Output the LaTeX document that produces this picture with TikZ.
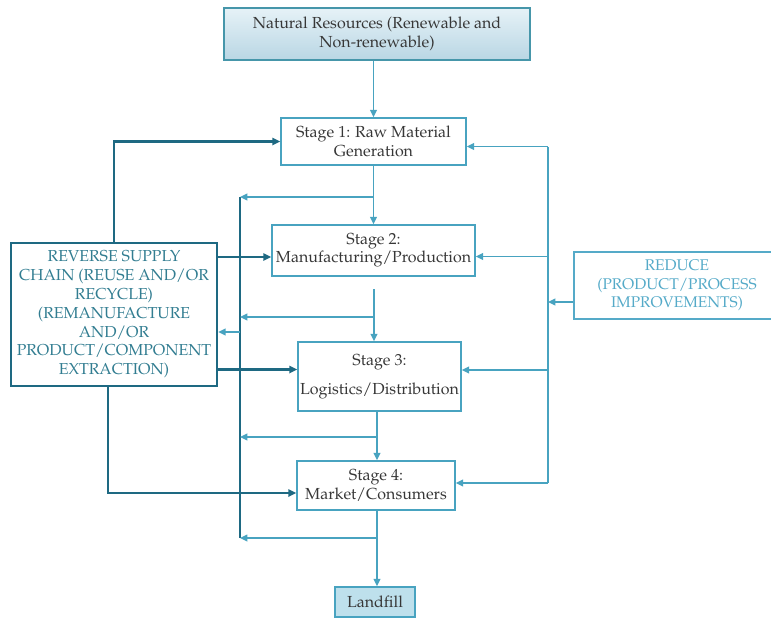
\documentclass[tikz,border=0pt]{standalone}
\usepackage[T1]{fontenc}
\renewcommand{\rmdefault}{ppl}
\usetikzlibrary{arrows.meta,calc}
\definecolor{lt}{RGB}{72,163,192}
\definecolor{dk}{RGB}{30,105,130}
\definecolor{nrb}{RGB}{70,150,170}
\definecolor{rsctext}{RGB}{50,125,145}
\definecolor{redc}{RGB}{85,170,200}
\definecolor{txt}{RGB}{55,55,55}
\definecolor{nrtop}{RGB}{230,242,247}
\definecolor{nrbot}{RGB}{185,214,228}
\definecolor{lffill}{RGB}{190,224,236}
\tikzset{
  stagebox/.style={draw=lt, line width=1.1pt, rectangle, align=center, inner sep=0pt,
    text=txt, font=\fontsize{12}{13.8}\selectfont},
  lt/.style={draw=lt, line width=1.1pt},
  ltarrow/.style={lt, -{Triangle[length=5.5pt,width=5pt]}},
  dkline/.style={draw=dk, line width=1.8pt},
  dkarrow/.style={dkline, -{Triangle[length=6pt,width=5.5pt]}},
}
\begin{document}
\begin{tikzpicture}[x=0.75pt,y=-0.75pt]
\useasboundingbox (0,0) rectangle (771,619);

% nodes
\node[stagebox, draw=nrb, line width=1.4pt, top color=nrtop, bottom color=nrbot,
  minimum width=229.5pt, minimum height=39pt] (nr) at (377,34)
  {Natural Resources (Renewable and\\Non-renewable)};
\node[stagebox, minimum width=138.75pt, minimum height=35.25pt] (s1) at (373.5,141.5)
  {Stage 1: Raw Material\\Generation};
\node[stagebox, minimum width=152.25pt, minimum height=38.25pt] (s2) at (373.5,250.5)
  {Stage 2:\\Manufacturing/Production};
\node[stagebox, minimum width=122.25pt, minimum height=51.75pt] (s3) at (379.5,376.5)
  {Stage 3:\\[8pt]Logistics/Distribution};
\node[stagebox, minimum width=118.5pt, minimum height=36.75pt] (s4) at (376,485.5)
  {Stage 4:\\Market/Consumers};
\node[stagebox, fill=lffill, minimum width=60pt, minimum height=22.5pt] (lf) at (375,602)
  {Landfill};
\node[stagebox, draw=dk, line width=1.8pt, text=rsctext, minimum width=154.5pt,
  minimum height=107.25pt, font=\fontsize{11.9}{14.1}\selectfont] (rsc) at (114,314.5)
  {REVERSE SUPPLY\\CHAIN (REUSE AND/OR\\RECYCLE)\\(REMANUFACTURE\\AND/OR\\PRODUCT/COMPONENT\\EXTRACTION)};
\node[stagebox, draw=redc, line width=1.5pt, text=redc, minimum width=154.5pt,
  minimum height=50.25pt, font=\fontsize{11.6}{13.9}\selectfont] (red) at (677,285.5)
  {REDUCE\\(PRODUCT/PROCESS\\IMPROVEMENTS)};

% junction coordinates
\coordinate (ctop) at (240,197);
\coordinate (cbot) at (240,538);
\coordinate (rtop) at (548,147);
\coordinate (rbot) at (548,483);
\coordinate (m1) at (374,197);
\coordinate (m2a) at (374,289);
\coordinate (m2) at (374,317);
\coordinate (m3) at (377,437);
\coordinate (m4) at (377,538);

% main chain
\draw[ltarrow] (s1.north |- nr.south) -- (s1.north);
\draw[ltarrow] (s1.south) -- (s1.south |- s2.north);
\draw[ltarrow] (m2a) -- (m2a |- s3.north);
\draw[ltarrow] (m3 |- s3.south) -- (m3 |- s4.north);
\draw[ltarrow] (m4 |- s4.south) -- (m4 |- lf.north);

% collector on the left
\draw[dkline, line width=2pt] (ctop) -- (cbot);
\draw[ltarrow] (m1) -- (ctop);
\draw[ltarrow] (m2) -- (m2 -| ctop);
\draw[ltarrow] (m3) -- (m3 -| ctop);
\draw[ltarrow] (m4) -- (cbot);
\coordinate (r3) at ($(rsc.east)+(0,17.5)$);
\draw[ltarrow] (r3 -| ctop) -- (r3);

% reverse supply chain arrows
\draw[dkarrow] (rsc.north) |- (s1.west);
\coordinate (a2) at ($(s2.west)+(0,6.5)$);
\draw[dkarrow] (a2 -| rsc.east) -- (a2);
\coordinate (a3) at ($(s3.west)+(0,-7)$);
\draw[dkarrow] (a3 -| rsc.east) -- (a3);
\coordinate (a4) at ($(s4.west)+(0,7.5)$);
\draw[dkarrow] ($(rsc.south)+(-6,0)$) |- (a4);

% reduce bus on the right
\draw[lt] (rtop) -- (rbot);
\coordinate (b0) at ($(red.west)+(0,16.5)$);
\draw[ltarrow] (b0) -- (b0 -| rtop);
\coordinate (b1) at ($(s1.east)+(0,5)$);
\draw[ltarrow] (b1 -| rtop) -- (b1);
\coordinate (b2) at ($(s2.east)+(0,6)$);
\draw[ltarrow] (b2 -| rtop) -- (b2);
\coordinate (b3) at ($(s3.east)+(0,-6.5)$);
\draw[ltarrow] (b3 -| rtop) -- (b3);
\draw[ltarrow] (rbot) -- (rbot -| s4.east);
\end{tikzpicture}
\end{document}
